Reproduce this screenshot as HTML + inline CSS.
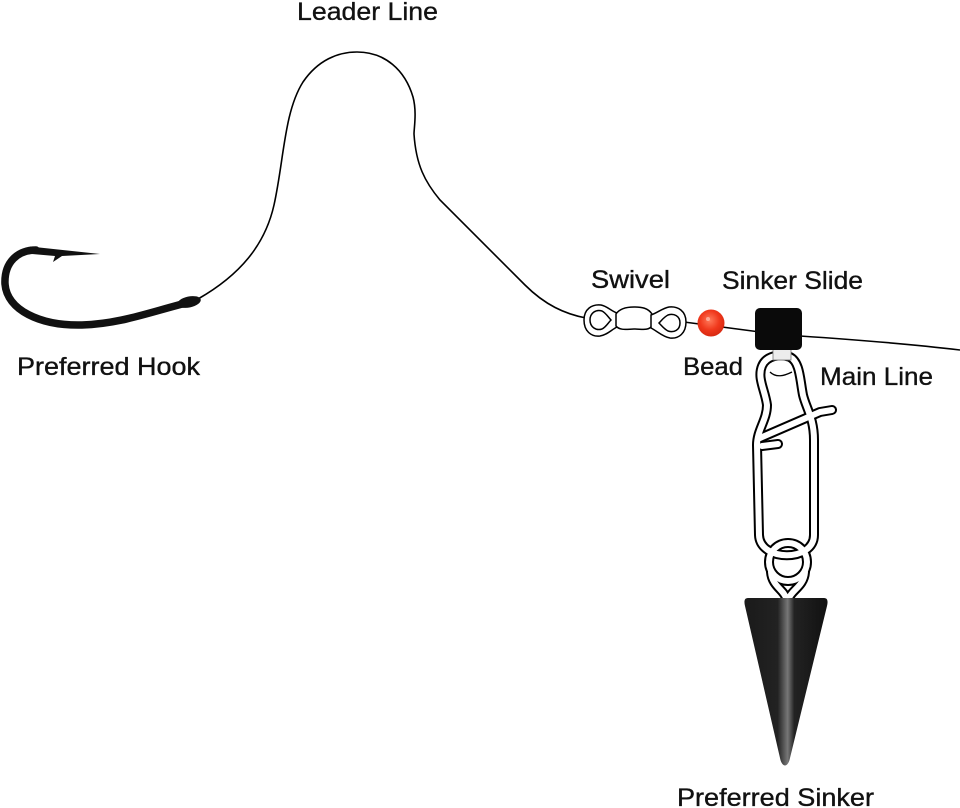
<!DOCTYPE html>
<html><head><meta charset="utf-8"><style>
html,body{margin:0;padding:0;background:#fff;}
svg{display:block;}
text{font-family:"Liberation Sans",Arial,sans-serif;font-size:25px;fill:#111;stroke:#111;stroke-width:0.35;}
</style></head><body>
<svg width="960" height="808" viewBox="0 0 960 808" xmlns="http://www.w3.org/2000/svg">
<defs>
<linearGradient id="sg" x1="0" x2="1" y1="0" y2="0">
<stop offset="0" stop-color="#1a1a1a"/>
<stop offset="0.4" stop-color="#222"/>
<stop offset="0.52" stop-color="#777"/>
<stop offset="0.6" stop-color="#222"/>
<stop offset="1" stop-color="#111"/>
</linearGradient>
<radialGradient id="bg" cx="0.45" cy="0.4" r="0.6">
<stop offset="0" stop-color="#ff7a5a"/>
<stop offset="0.6" stop-color="#f0381c"/>
<stop offset="1" stop-color="#d82a12"/>
</radialGradient>
</defs>

<!-- labels -->
<text x="297" y="20" textLength="141" lengthAdjust="spacingAndGlyphs">Leader Line</text>
<text x="17" y="375" textLength="183" lengthAdjust="spacingAndGlyphs">Preferred Hook</text>
<text x="591" y="288" textLength="79" lengthAdjust="spacingAndGlyphs">Swivel</text>
<text x="722" y="289" textLength="141" lengthAdjust="spacingAndGlyphs">Sinker Slide</text>
<text x="683" y="375" textLength="60" lengthAdjust="spacingAndGlyphs">Bead</text>
<text x="820" y="385" textLength="113" lengthAdjust="spacingAndGlyphs">Main Line</text>
<text x="677" y="806" textLength="197" lengthAdjust="spacingAndGlyphs">Preferred Sinker</text>

<!-- leader line -->
<path d="M 198,299 C 240,275 265,245 274,205 C 284,160 284,112 303,82 C 318,60 338,52 357,52 C 385,52 405,70 413,97 C 417,112 414,128 414,134 C 416,165 425,182 440,200 L 525,285 C 545,305 565,314 586,318" fill="none" stroke="#000" stroke-width="1.6"/>

<!-- hook -->
<path d="M 190,302 C 150,312 120,324 82,325 C 40,326 7,310 5,284 C 4,262 18,250 36,250" fill="none" stroke="#111" stroke-width="7.5" stroke-linecap="round"/>
<polygon points="30,246.5 100,254 62,256 53,262 55,256 32,254" fill="#111"/>
<ellipse cx="189" cy="302" rx="12" ry="5.5" transform="rotate(-12 189 302)" fill="#111"/>

<!-- line swivel->bead->slide -->
<path d="M 684,322 L 760,332" stroke="#000" stroke-width="1.6" fill="none"/>
<!-- main line -->
<path d="M 800,336 C 860,340 910,344 960,350" stroke="#000" stroke-width="1.6" fill="none"/>

<!-- swivel -->
<g fill="#fff" stroke="#000" stroke-width="1.5">
<path d="M 584,320 C 584,309 592,304 601,305 C 607,306 611,311 617,313 L 617,327 C 611,330 607,335 600,336 C 591,337 584,331 584,320 Z"/>
<path d="M 590,320 C 590,313 596,309 602,311 C 606,313 608,317 611,320 C 608,323 606,327 602,329 C 596,331 590,327 590,320 Z"/>
<path d="M 616,314 C 620,308 628,307 634,307 C 642,307 648,308 652,314 L 652,326 C 648,331 642,329 634,329 C 628,329 620,331 616,326 Z"/>
<path d="M 686,322 C 686,311 678,306 669,307 C 663,308 657,313 651,315 L 651,328 C 657,331 663,337 670,338 C 679,339 686,333 686,322 Z"/>
<path d="M 680,323 C 680,316 674,313 668,315 C 664,317 662,320 659,323 C 662,326 664,329 668,331 C 674,333 680,330 680,323 Z"/>
</g>

<!-- bead -->
<circle cx="711" cy="323" r="13.5" fill="url(#bg)"/>
<circle cx="708" cy="319" r="2" fill="#ffb8a8" opacity="0.8"/>

<!-- snap wire: outline then white -->
<g fill="none" stroke-linecap="round" stroke-linejoin="round">
<g stroke="#000" stroke-width="10">
<path d="M 790,357 C 800,362 800,380 803,395 C 806,408 814,418 814,440 L 814,535 C 814,562 760,562 759,535 L 757,445 C 757,430 767,420 767,405 C 765,390 757,378 762,366 C 766,356 780,353 790,357"/>
<path d="M 760,438 L 820,412 L 832,410"/>
<path d="M 762,446 L 778,444"/>
<circle cx="788" cy="562" r="19"/>
<path d="M 771,572 C 772,586 784,590 786,598"/>
<path d="M 805,572 C 804,586 792,590 789,598"/>
</g>
<g stroke="#fff" stroke-width="6">
<path d="M 790,357 C 800,362 800,380 803,395 C 806,408 814,418 814,440 L 814,535 C 814,562 760,562 759,535 L 757,445 C 757,430 767,420 767,405 C 765,390 757,378 762,366 C 766,356 780,353 790,357"/>
<path d="M 760,438 L 820,412 L 832,410"/>
<path d="M 762,446 L 778,444"/>
<circle cx="788" cy="562" r="19"/>
<path d="M 771,572 C 772,586 784,590 786,598"/>
<path d="M 805,572 C 804,586 792,590 789,598"/>
</g>
</g>
<path d="M 770,372 C 776,378 784,376 792,372" fill="none" stroke="#000" stroke-width="1.3"/>

<!-- sinker slide -->
<rect x="773" y="346" width="18" height="14" fill="#ececec" stroke="#777" stroke-width="0.8"/>
<rect x="755" y="308" width="47" height="42" rx="5" fill="#0a0a0a"/>

<!-- sinker -->
<path d="M 748,598 L 824,598 C 828,598 828,602 827,606 L 790,758 C 788,768 782,768 780,758 L 745,606 C 744,602 744,598 748,598 Z" fill="url(#sg)"/>
</svg>
</body></html>
